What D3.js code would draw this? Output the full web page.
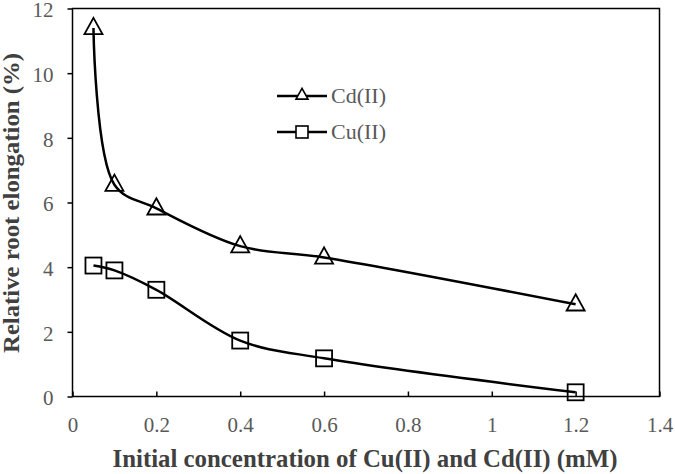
<!DOCTYPE html>
<html><head><meta charset="utf-8">
<script src="https://cdn.jsdelivr.net/npm/d3@7"></script>
<style>body{margin:0;background:#fff}</style>
</head><body>
<svg id="c" width="675" height="474"></svg>
<script>
const concentrations = [0.05, 0.1, 0.2, 0.4, 0.6, 1.2];
const cdValues = [11.4, 6.55, 5.82, 4.65, 4.3, 2.85];
const cuValues = [4.05, 3.9, 3.3, 1.73, 1.18, 0.13];
const xTicks = [0, 0.2, 0.4, 0.6, 0.8, 1, 1.2, 1.4];
const yTicks = [0, 2, 4, 6, 8, 10, 12];
const seriesNames = ["Cd(II)", "Cu(II)"];

const svg = d3.select("#c");
const L = 72.5, R = 659.5, T = 8.5, B = 396.5;
const x = d3.scaleLinear().domain([0, 1.4]).range([L, R]);
const y = d3.scaleLinear().domain([0, 12]).range([B, T]);
const font = "'Liberation Serif','Times New Roman',serif";

// frame
svg.append("rect").attr("x", L).attr("y", T).attr("width", R - L).attr("height", B - T)
  .attr("fill", "none").attr("stroke", "#000").attr("stroke-width", 1.5);

// x axis (ticks inward)
const xa = svg.append("g").attr("transform", `translate(0,${B})`)
  .call(d3.axisBottom(x).tickValues(xTicks).tickSizeInner(-5).tickSizeOuter(0).tickPadding(21)
    .tickFormat(d => d3.format("")(+d.toFixed(1))));
xa.select(".domain").remove();
xa.selectAll("line").attr("stroke", "#000").attr("stroke-width", 1.5);
xa.selectAll("text").attr("font-family", font).attr("font-size", 21).attr("fill", "#595959");

// y axis (ticks outward)
const ya = svg.append("g").attr("transform", `translate(${L},0)`)
  .call(d3.axisLeft(y).tickValues(yTicks).tickSizeInner(5).tickSizeOuter(0).tickPadding(14));
ya.select(".domain").remove();
ya.selectAll("line").attr("stroke", "#000").attr("stroke-width", 1.5);
ya.selectAll("text").attr("font-family", font).attr("font-size", 21).attr("fill", "#595959")
  .attr("dy", "0.4em");

// titles
svg.append("text").attr("x", 365).attr("y", 467).attr("text-anchor", "middle")
  .attr("font-family", font).attr("font-weight", "bold").attr("font-size", 25).attr("fill", "#404040")
  .attr("textLength", 505).attr("lengthAdjust", "spacingAndGlyphs")
  .text("Initial concentration of Cu(II) and Cd(II) (mM)");
svg.append("text").attr("transform", "translate(19,203) rotate(-90)").attr("text-anchor", "middle")
  .attr("font-family", font).attr("font-weight", "bold").attr("font-size", 23).attr("fill", "#404040")
  .attr("textLength", 300).attr("lengthAdjust", "spacingAndGlyphs")
  .text("Relative root elongation (%)");

const line = d3.line().x(d => x(d[0])).y(d => y(d[1])).curve(d3.curveCatmullRom.alpha(0.5));
const cd = concentrations.map((c, i) => [c, cdValues[i]]);
const cu = concentrations.map((c, i) => [c, cuValues[i]]);

function tri(cx, cy, s) {
  const h = s * 0.9;
  return `M${cx},${cy - h * 0.62}L${cx + s / 2},${cy + h * 0.38}L${cx - s / 2},${cy + h * 0.38}Z`;
}

svg.append("path").datum(cd).attr("d", line).attr("fill", "none").attr("stroke", "#000").attr("stroke-width", 2.5);
svg.append("path").datum(cu).attr("d", line).attr("fill", "none").attr("stroke", "#000").attr("stroke-width", 2.5);

svg.selectAll(".tri").data(cd).enter().append("path")
  .attr("d", d => tri(x(d[0]), y(d[1]), 18)).attr("fill", "none").attr("stroke", "#000").attr("stroke-width", 1.8);
svg.selectAll(".sq").data(cu).enter().append("rect")
  .attr("x", d => x(d[0]) - 8).attr("y", d => y(d[1]) - 8).attr("width", 16).attr("height", 16)
  .attr("fill", "none").attr("stroke", "#000").attr("stroke-width", 1.8);

// legend
const lg = svg.append("g");
const ly = [96, 132];
seriesNames.forEach((n, i) => {
  lg.append("line").attr("x1", 277).attr("x2", 327).attr("y1", ly[i]).attr("y2", ly[i])
    .attr("stroke", "#000").attr("stroke-width", 2.5);
  if (i === 0) {
    lg.append("path").attr("d", tri(302, ly[i] - 1, 12)).attr("fill", "#fff").attr("stroke", "#000").attr("stroke-width", 1.6);
  } else {
    lg.append("rect").attr("x", 296).attr("y", ly[i] - 6).attr("width", 12).attr("height", 12)
      .attr("fill", "#fff").attr("stroke", "#000").attr("stroke-width", 1.6);
  }
  lg.append("text").attr("x", 331).attr("y", ly[i] + 7).attr("font-family", font).attr("font-size", 22)
    .attr("fill", "#595959").text(n);
});
</script>
</body></html>
